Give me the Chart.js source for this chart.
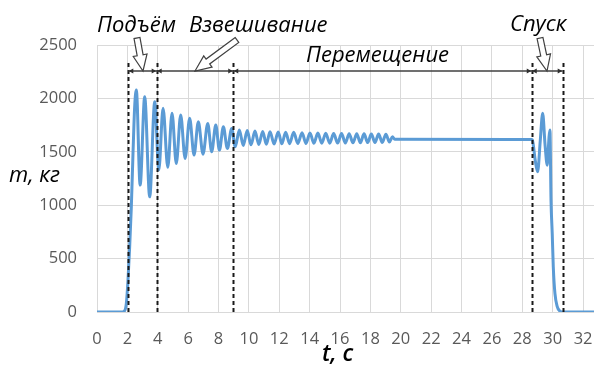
<!DOCTYPE html>
<html>
<head>
<meta charset="utf-8">
<script src="https://cdn.jsdelivr.net/npm/chart.js@4/dist/chart.umd.min.js"></script>
<style>
  html, body { margin: 0; padding: 0; background: #ffffff; }
  canvas { display: block; }
</style>
</head>
<body>
<canvas id="chart" width="594" height="365"></canvas>
<script>
// Load mass during a crane cycle: time (s) and measured mass (kg)
const times = [
  0, 1.6, 1.8, 1.93, 2.04, 2.15, 2.26, 2.37, 2.48, 2.59,
  2.84, 3.14, 3.47, 3.80, 4.07, 4.35, 4.66, 4.94, 5.22, 5.51,
  5.80, 6.10, 6.39, 6.67, 6.98, 7.29, 7.55, 7.82, 8.06, 8.32,
  8.58, 8.87, 9.10, 9.37, 9.63, 9.89, 10.14, 10.40, 10.65, 10.91,
  11.15, 11.39, 11.66, 11.93, 12.17, 12.42, 12.68, 12.95, 13.22, 13.50,
  13.76, 14.02, 14.28, 14.54, 14.80, 15.06, 15.32, 15.58, 15.84, 16.10,
  16.35, 16.60, 16.85, 17.10, 17.34, 17.58, 17.82, 18.06, 18.30, 18.54,
  18.78, 19.02, 19.25, 19.45, 19.60, 28.60, 28.66, 28.85, 29.01, 29.18,
  29.34, 29.50, 29.64, 29.76, 29.82, 29.89, 29.97, 30.04, 30.15, 30.30,
  30.45, 30.70, 33
];
const masses = [
  0, 0, 8, 78, 297, 609, 984, 1485, 1922, 2078,
  1188, 2016, 1078, 1969, 1330, 1907, 1355, 1860, 1391, 1844,
  1438, 1813, 1469, 1781, 1478, 1766, 1500, 1750, 1516, 1734,
  1531, 1719, 1547, 1703, 1560, 1700, 1565, 1694, 1568, 1690,
  1571, 1688, 1573, 1686, 1575, 1684, 1576, 1682, 1577, 1679,
  1578, 1677, 1579, 1675, 1580, 1674, 1581, 1672, 1582, 1671,
  1583, 1670, 1584, 1669, 1585, 1668, 1586, 1667, 1587, 1666,
  1588, 1665, 1592, 1640, 1618, 1616, 1612, 1420, 1313, 1600,
  1860, 1560, 1375, 1640, 1703, 1047, 735, 422, 172, 50,
  12, 0, 0
];

const xTicks = [0, 2, 4, 6, 8, 10, 12, 14, 16, 18, 20, 22, 24, 26, 28, 30, 32];
const yTicks = [0, 500, 1000, 1500, 2000, 2500];

// Phase boundaries (s) and phase names
const phaseBounds = [2.06, 3.93, 8.97, 28.62, 30.66];
const phaseNames = ['Подъём', 'Взвешивание', 'Перемещение', 'Спуск'];

const axisTitleY = 'm, кг';
const axisTitleX = 't, c';

const TEXT_FONT = '"Open Sans", "Liberation Sans", Arial, sans-serif';
const TICK_FONT = '"Open Sans", "Liberation Sans", Arial, sans-serif';

function drawHollowArrow(ctx, x1, y1, x2, y2) {
  const dx = x2 - x1, dy = y2 - y1;
  const len = Math.hypot(dx, dy);
  const ux = dx / len, uy = dy / len;
  const nx = -uy, ny = ux;
  const sw = 3, hw = 7, hl = 16;
  const bx = x2 - ux * hl, by = y2 - uy * hl;
  ctx.beginPath();
  ctx.moveTo(x1 + nx * sw, y1 + ny * sw);
  ctx.lineTo(bx + nx * sw, by + ny * sw);
  ctx.lineTo(bx + nx * hw, by + ny * hw);
  ctx.lineTo(x2, y2);
  ctx.lineTo(bx - nx * hw, by - ny * hw);
  ctx.lineTo(bx - nx * sw, by - ny * sw);
  ctx.lineTo(x1 - nx * sw, y1 - ny * sw);
  ctx.closePath();
  ctx.fillStyle = '#ffffff';
  ctx.fill();
  ctx.strokeStyle = '#404040';
  ctx.lineWidth = 1.2;
  ctx.stroke();
}

const phasePlugin = {
  id: 'phases',
  afterDatasetsDraw(chart) {
    const ctx = chart.ctx;
    const xs = chart.scales.x;
    const area = chart.chartArea;
    const px = phaseBounds.map(v => xs.getPixelForValue(v));
    const dimY = 71;
    ctx.save();

    // vertical dashed boundaries
    ctx.strokeStyle = '#1a1a1a';
    ctx.lineWidth = 2;
    ctx.setLineDash([4, 3]);
    px.forEach(x => {
      ctx.beginPath();
      ctx.moveTo(Math.round(x) + 0.5, 63);
      ctx.lineTo(Math.round(x) + 0.5, area.bottom);
      ctx.stroke();
    });
    ctx.setLineDash([]);

    // dimension line with small arrowheads
    ctx.strokeStyle = '#404040';
    ctx.lineWidth = 1.5;
    ctx.beginPath();
    ctx.moveTo(px[0], dimY);
    ctx.lineTo(px[px.length - 1], dimY);
    ctx.stroke();
    ctx.fillStyle = '#303030';
    px.forEach((x, i) => {
      const sides = [];
      if (i < px.length - 1) sides.push(1);
      if (i > 0) sides.push(-1);
      sides.forEach(s => {
        ctx.beginPath();
        ctx.moveTo(x + s * 0.5, dimY);
        ctx.lineTo(x + s * 5, dimY - 2.5);
        ctx.lineTo(x + s * 5, dimY + 2.5);
        ctx.closePath();
        ctx.fill();
      });
    });

    // hollow pointer arrows
    drawHollowArrow(ctx, 137, 38, 143, dimY);
    drawHollowArrow(ctx, 237, 40, 195, dimY);
    drawHollowArrow(ctx, 540, 38, 547, dimY);

    // phase names
    ctx.fillStyle = '#000000';
    ctx.textAlign = 'left';
    ctx.textBaseline = 'alphabetic';
    ctx.font = 'italic 22px ' + TEXT_FONT;
    ctx.fillText(phaseNames[0], 97, 32);
    ctx.fillText(phaseNames[1], 189, 32);
    ctx.fillText(phaseNames[2], 306, 62);
    ctx.fillText(phaseNames[3], 510, 31);

    // axis titles
    ctx.font = 'italic 22px ' + TEXT_FONT;
    ctx.fillText(axisTitleY, 9, 182);
    ctx.font = 'italic 600 23px ' + TEXT_FONT;
    ctx.fillText(axisTitleX, 322, 361);
    ctx.restore();
  }
};

new Chart(document.getElementById('chart'), {
  type: 'line',
  data: {
    datasets: [{
      data: times.map((t, i) => ({ x: t, y: masses[i] })),
      borderColor: '#5b9bd5',
      borderWidth: 3,
      pointRadius: 0,
      cubicInterpolationMode: 'monotone',
      fill: false
    }]
  },
  options: {
    responsive: false,
    animation: false,
    devicePixelRatio: 1,
    layout: { padding: { top: 45, right: 0, bottom: 0, left: 0 } },
    plugins: { legend: { display: false }, tooltip: { enabled: false } },
    scales: {
      x: {
        type: 'linear',
        min: 0,
        max: 32.72,
        afterBuildTicks(scale) { scale.ticks = xTicks.map(v => ({ value: v })); },
        afterFit(scale) {
          scale.height = 53;
          scale.paddingLeft = 0;
          scale.paddingRight = 0;
        },
        ticks: {
          color: '#595959',
          font: { family: TICK_FONT, size: 16.5 },
          padding: 17,
          maxRotation: 0,
          autoSkip: false,
          callback: v => String(v)
        },
        grid: { color: '#d9d9d9', lineWidth: 1, drawTicks: false },
        border: { display: false }
      },
      y: {
        min: 0,
        max: 2500,
        afterBuildTicks(scale) { scale.ticks = yTicks.map(v => ({ value: v })); },
        afterFit(scale) {
          scale.width = 97;
          scale.paddingTop = 0;
          scale.paddingBottom = 0;
        },
        ticks: {
          color: '#595959',
          font: { family: TICK_FONT, size: 16.5 },
          padding: 20,
          callback: v => String(v)
        },
        grid: { color: '#d9d9d9', lineWidth: 1, drawTicks: false },
        border: { display: false }
      }
    }
  },
  plugins: [phasePlugin]
});
</script>
</body>
</html>
